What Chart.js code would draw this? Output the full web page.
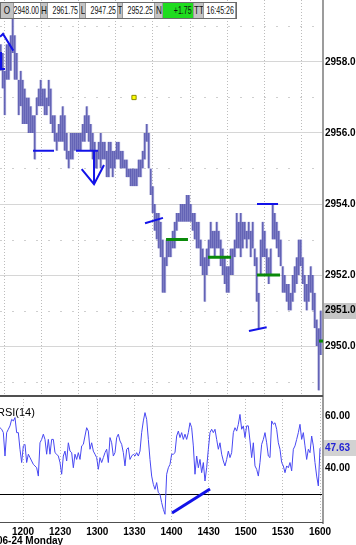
<!DOCTYPE html>
<html><head><meta charset="utf-8">
<script src="https://cdn.jsdelivr.net/npm/chart.js@4"></script>
<style>
html,body{margin:0;padding:0;background:#fff;}
#wrap{position:relative;width:356px;height:545px;overflow:hidden;background:#fff;font-family:"Liberation Sans",Arial,sans-serif;}
#c1{position:absolute;left:0;top:0;}
#c2{position:absolute;left:0;top:396px;}
#hdr{position:absolute;left:0;top:2px;height:17px;display:flex;border:1px solid #6a6a6a;box-sizing:border-box;background:#fff;z-index:2;}
#hdr span{position:relative;display:block;height:15px;font-size:10.5px;color:#111;box-sizing:border-box;white-space:nowrap;overflow:hidden;border-right:1px solid #9a9a9a;}
#hdr span i{position:absolute;top:0;line-height:15px;font-style:normal;white-space:nowrap;}
#hdr .k{background:#c4c4c4;}
#hdr .k i{left:50%;transform:translateX(-50%) scaleX(0.78);}
#hdr .v{background:#fff;}
#hdr .v i{right:1px;transform:scaleX(0.67);transform-origin:right center;}
#hdr .g{background:#1fdc1f;}
#rsiLbl{position:absolute;left:-3px;top:406px;font-size:11px;color:#000;z-index:2;}
#dateLbl{position:absolute;left:-3px;top:535px;font-size:10px;font-weight:bold;color:#000;line-height:12px;z-index:2;}
</style></head>
<body><div id="wrap">
<canvas id="c1" width="356" height="397"></canvas>
<canvas id="c2" width="356" height="149"></canvas>
<div id="hdr"></div>
<div id="rsiLbl">RSI(14)</div>
<div id="dateLbl">06-24 Monday</div>
</div>
<script>
// ---------- data ----------
const headerKeys = ["O","H","L","T","N","TT"];
const headerVals = ["2948.00","2961.75","2947.25","2952.25","+1.75","16:45:26"];
const timeTicks = [720,750,780,810,840,870,900,930,960];      // minutes since midnight (12:00 .. 16:00)
const priceTicks = [2950,2952,2954,2956,2958];
const priceMinor = [2949,2951,2953,2955,2957,2959];
const rsiTicks = [30,40,60];
const lastPrice = 2951.0;
const lastRsi = 47.63;

// price bars (about 1.6 minutes apart)
const barT0 = 702.22, barStep = 1.6162;
const barHigh = [
2958.5,2958.25,2957.75,2958.5,2958.5,2958.75,2959.25,2958.75,2958.25,2957.5,
2957.75,2957.5,2957.25,2957.0,2957.0,2956.75,2956.5,2956.5,2957.0,2957.25,
2957.5,2957.25,2957.25,2957.0,2957.5,2957.25,2956.5,2956.5,2956.0,2956.25,
2956.5,2956.75,2956.5,2956.0,2955.5,2956.0,2956.0,2956.0,2956.0,2956.0,
2956.0,2956.25,2956.5,2956.75,2956.5,2956.25,2956.0,2955.75,2955.5,2955.75,
2956.0,2955.75,2955.75,2955.5,2955.75,2955.75,2955.5,2955.5,2955.75,2955.75,
2955.5,2955.5,2955.25,2955.25,2955.0,2955.0,2955.0,2955.0,2955.0,2955.25,
2955.25,2955.5,2956.0,2956.25,2956.0,2955.0,2954.5,2954.0,2953.75,2953.75,
2953.5,2953.0,2952.5,2953.0,2953.0,2953.0,2953.25,2953.5,2953.75,2953.75,
2954.0,2954.0,2954.0,2954.25,2954.25,2954.0,2953.75,2953.75,2953.5,2953.5,
2953.0,2952.75,2952.5,2952.75,2953.0,2953.5,2953.25,2953.25,2953.5,2953.25,
2953.0,2952.75,2952.5,2952.25,2952.25,2952.75,2952.75,2953.0,2953.75,2953.5,
2953.75,2953.5,2953.5,2953.25,2953.5,2953.25,2953.5,2952.75,2952.5,2951.5,
2953.0,2953.5,2953.25,2952.75,2952.5,2952.75,2954.0,2953.75,2953.5,2953.25,
2953.0,2952.25,2952.0,2951.75,2951.75,2951.5,2952.0,2952.25,2952.5,2953.0,
2953.0,2952.5,2952.0,2951.75,2952.0,2952.25,2952.0,2951.5,2950.75,2950.5,
2951.0];
const barLow = [
2957.75,2957.25,2956.5,2957.5,2957.5,2957.75,2958.25,2957.5,2957.5,2956.5,
2956.75,2956.25,2956.25,2956.25,2956.0,2956.0,2956.0,2955.25,2956.5,2956.75,
2956.75,2956.75,2956.5,2956.5,2956.75,2956.25,2956.0,2955.75,2955.5,2955.75,
2955.75,2955.75,2955.5,2955.25,2955.0,2955.25,2955.25,2955.5,2955.5,2955.5,
2955.5,2955.75,2955.75,2956.0,2955.75,2955.5,2955.25,2955.0,2955.0,2955.25,
2955.0,2955.25,2955.25,2954.75,2954.75,2955.0,2954.75,2955.0,2955.25,2955.25,
2955.0,2955.0,2955.0,2954.75,2954.75,2954.5,2954.5,2954.5,2954.5,2954.75,
2954.75,2955.0,2955.25,2955.75,2955.0,2954.25,2953.75,2953.25,2953.0,2952.75,
2952.5,2951.5,2951.5,2952.25,2952.5,2952.5,2952.75,2952.75,2953.25,2953.5,
2953.5,2953.5,2953.5,2953.5,2953.5,2953.5,2953.25,2953.0,2952.75,2952.75,
2952.25,2952.0,2951.25,2952.0,2952.25,2952.75,2952.75,2952.5,2952.75,2952.75,
2952.25,2952.0,2951.75,2951.5,2951.5,2952.0,2952.0,2952.5,2952.75,2952.75,
2952.5,2952.75,2953.0,2952.75,2953.0,2952.5,2952.75,2952.25,2951.25,2950.5,
2952.0,2952.5,2952.5,2952.0,2951.75,2952.0,2953.0,2953.0,2952.75,2952.5,
2952.25,2951.5,2951.5,2951.25,2951.0,2951.0,2951.25,2951.5,2951.75,2952.0,
2952.25,2951.75,2951.25,2951.0,2951.25,2951.5,2951.0,2950.5,2950.0,2948.75,
2949.75];

// RSI(14) (about 1.35 minutes apart)
const rsiT0 = 701.41, rsiStep = 1.3468;
const rsiValues = [
55.5,54.9,53.6,44.6,53.6,54.9,56.2,58.7,58.1,59.4,
53.6,53.6,47.2,42.1,48.5,49.1,42.1,45.3,44.0,42.7,
41.4,40.8,40.1,36.9,49.7,51.0,53.0,51.0,45.3,51.0,
45.3,51.0,51.0,45.9,45.3,44.6,42.1,37.6,44.6,46.5,
42.7,49.7,46.5,45.9,40.1,45.3,43.3,45.9,43.3,48.5,
49.1,52.3,55.5,54.2,47.2,49.7,46.5,45.3,44.0,39.5,
44.0,42.1,44.0,45.9,47.2,42.1,51.7,49.7,44.6,45.9,
51.7,53.0,50.4,49.1,45.9,40.8,47.2,47.8,43.3,44.6,
45.3,44.6,45.9,44.6,46.5,53.6,58.1,61.3,58.7,51.0,
43.3,36.9,33.7,31.8,34.4,30.5,
29.9,26.7,24.1,22.2,37.6,40.1,41.4,45.3,45.3,45.9,
52.3,54.2,51.7,53.6,51.0,53.0,51.0,53.6,57.4,55.5,
48.5,37.6,44.6,40.1,43.3,38.2,42.1,35.0,40.1,47.2,
53.6,54.9,53.6,54.9,51.0,47.2,49.7,45.3,42.7,40.8,
43.3,46.5,44.0,45.9,53.6,55.5,54.2,56.8,60.6,54.9,
56.2,51.7,56.2,56.2,50.4,44.0,49.7,40.8,39.5,36.9,
42.1,49.1,51.0,53.6,49.7,44.6,44.0,58.1,56.8,57.4,
54.9,49.7,47.2,42.1,40.8,38.2,40.8,40.1,42.1,38.9,
47.2,48.5,51.0,53.6,56.8,51.0,53.6,48.5,43.3,47.2,
45.9,52.3,48.5,42.1,36.9,33.1,47.63];

// drawn annotations: [time, value] points
const blueLines = [
  [[701.41,2958.71],[703.83,2958.79],[712.16,2958.32]],
  [[702.22,2958.28],[702.22,2957.80],[705.45,2957.80]],
  [[728.1,2955.5],[745.05,2955.5]],
  [[762.8,2955.5],[780.6,2955.5]],
  [[777.4,2955.5],[777.4,2954.56]],
  [[767.4,2954.98],[777.4,2954.56],[785.45,2955.10]],
  [[818.6,2953.46],[833.1,2953.61]],
  [[909.1,2954.0],[926.1,2954.0]],
  [[902.6,2950.42],[916.9,2950.53]]
];
const greenLines = [
  [[835.6,2953.0],[853.3,2953.0]],
  [[869.5,2952.5],[888.1,2952.5]],
  [[909.1,2952.0],[927.7,2952.0]],
  [[959.2,2950.14],[963.2,2950.14]]
];
const yellowMark = [[809.7,2957.0]];
const rsiLine = [[840.4,22.7],[871.1,31.9]];

// ---------- header ----------
const hdr = document.getElementById('hdr');
const kW = [13,7,6,5,8,10], vW = [27,32,32,32,31,32];
headerKeys.forEach((k,i)=>{
  const a=document.createElement('span'); a.className='k'; a.style.width=kW[i]+'px'; a.innerHTML='<i></i>'; a.firstChild.textContent=k; hdr.appendChild(a);
  const b=document.createElement('span'); b.className='v'+(k==='N'?' g':''); b.style.width=vW[i]+'px'; b.innerHTML='<i></i>'; b.firstChild.textContent=headerVals[i]; hdr.appendChild(b);
});

// ---------- charts ----------
const xMin = 701.41, xMax = 962.42;
const fontB = {family:'Liberation Sans', size:10, weight:'bold'};
const hhmm = v => String(Math.floor(v/60)).padStart(2,'0') + String(Math.round(v%60)).padStart(2,'0');
const toPts = arr => arr.map(p=>({x:p[0], y:p[1]}));
const noPad = s => { s.paddingTop=0; s.paddingBottom=0; s.paddingLeft=0; s.paddingRight=0; };

const annoSets = [];
blueLines.forEach(l=>annoSets.push({type:'line', data:toPts(l), borderColor:'#1212e8', borderWidth:2, pointRadius:0, order:0}));
greenLines.forEach(l=>annoSets.push({type:'line', data:toPts(l), borderColor:'#0a8a0a', borderWidth:3, pointRadius:0, order:0}));
annoSets.push({type:'line', data:toPts(yellowMark), showLine:false, pointStyle:'rect', pointRadius:3, pointBackgroundColor:'#ffff00', pointBorderColor:'#8a8a00', pointBorderWidth:1, order:0});

const barData = barHigh.map((h,i)=>({x: barT0 + i*barStep, y:[barLow[i], h]}));

const panelLines = {
  id:'panelLines',
  beforeDatasetsDraw(chart, args, opts){
    const {ctx, chartArea:a, scales} = chart;
    ctx.save();
    if (opts.minor){
      ctx.strokeStyle='#cfcfcf'; ctx.lineWidth=1; ctx.setLineDash([2,10]);
      opts.minor.forEach(v=>{
        const y = Math.round(scales.y.getPixelForValue(v))+0.5;
        ctx.beginPath(); ctx.moveTo(a.left,y); ctx.lineTo(a.right,y); ctx.stroke();
      });
    }
    ctx.restore();
  },
  afterDraw(chart, args, opts){
    const {ctx, chartArea:a, scales} = chart;
    ctx.save();
    ctx.setLineDash([]);
    ctx.strokeStyle='#505050'; ctx.lineWidth=1;
    if (opts.bottom){ ctx.beginPath(); ctx.moveTo(0,a.bottom-0.5); ctx.lineTo(a.right,a.bottom-0.5); ctx.stroke(); }
    if (opts.top){ ctx.beginPath(); ctx.moveTo(0,a.top+0.5); ctx.lineTo(a.right,a.top+0.5); ctx.stroke(); }
    if (opts.tag){
      const y = scales.y.getPixelForValue(opts.tag.value);
      ctx.fillStyle = opts.tag.bg;
      ctx.fillRect(a.right+1, Math.round(y-8), 40, 16);
      ctx.fillStyle = opts.tag.color;
      ctx.font = 'bold 10px "Liberation Sans"';
      ctx.textBaseline='middle'; ctx.textAlign='left';
      ctx.fillText(opts.tag.text, a.right+2, y);
    }
    ctx.restore();
  }
};

new Chart(document.getElementById('c1'), {
  type:'bar',
  data:{datasets:[...annoSets, {type:'bar', data:barData, backgroundColor:'rgba(132,132,202,0.85)', borderColor:'rgba(55,55,155,0.9)', borderWidth:{left:1,right:0,top:0,bottom:0}, borderSkipped:false, barThickness:2.4, order:1}]},
  plugins:[panelLines],
  options:{
    responsive:false, animation:false, events:[],
    layout:{padding:0, autoPadding:false},
    plugins:{legend:{display:false}, tooltip:{enabled:false},
      panelLines:{minor:priceMinor, bottom:true, tag:{value:lastPrice, text:lastPrice.toFixed(1), bg:'#c6c6c6', color:'#000'}}},
    scales:{
      x:{type:'linear', min:xMin, max:xMax, offset:false,
         afterBuildTicks:s=>{s.ticks = timeTicks.map(v=>({value:v}));},
         afterFit:s=>{s.height=1; noPad(s);},
         ticks:{display:false},
         grid:{color:'#bcbcbc', drawTicks:false},
         border:{display:false, dash:[1,2]}},
      y:{position:'right', min:2948.592, max:2959.746,
         afterBuildTicks:s=>{s.ticks = priceTicks.map(v=>({value:v}));},
         afterFit:s=>{s.width=33; noPad(s);},
         ticks:{color:'#000', font:fontB, padding:2, autoSkip:false, callback:v=>Number(v).toFixed(1)},
         grid:{color:'#d6d6d6', drawTicks:false},
         border:{display:true, color:'#9c9c9c', width:2}}
    }
  }
});

const rsiData = rsiValues.map((v,i)=>({x: rsiT0 + i*rsiStep, y:v}));

new Chart(document.getElementById('c2'), {
  type:'line',
  data:{datasets:[
    {data:toPts(rsiLine), borderColor:'#1212e8', borderWidth:3, pointRadius:0, order:0},
    {data:rsiData, borderColor:'#4848f2', borderWidth:1, pointRadius:0, tension:0, order:1}
  ]},
  plugins:[panelLines],
  options:{
    responsive:false, animation:false, events:[],
    layout:{padding:0, autoPadding:false},
    plugins:{legend:{display:false}, tooltip:{enabled:false},
      panelLines:{top:true, bottom:true, tag:{value:lastRsi, text:lastRsi.toFixed(2), bg:'#d2d2d2', color:'#2424d4'}}},
    scales:{
      x:{type:'linear', min:xMin, max:xMax, offset:false,
         afterBuildTicks:s=>{s.ticks = timeTicks.map(v=>({value:v}));},
         afterFit:s=>{s.height=22; noPad(s);},
         ticks:{color:'#000', font:fontB, padding:3, autoSkip:false, maxRotation:0, callback:v=>hhmm(v)},
         grid:{color:'#bcbcbc', drawTicks:false},
         border:{display:false, dash:[1,2]}},
      y:{position:'right', min:18.85, max:67.69,
         afterBuildTicks:s=>{s.ticks = rsiTicks.map(v=>({value:v}));},
         afterFit:s=>{s.width=33; noPad(s);},
         ticks:{color:'#000', font:fontB, padding:2, autoSkip:false, callback:v=> v===30 ? '' : Number(v).toFixed(2)},
         grid:{color:c=> (c.tick && c.tick.value===30) ? '#000' : 'rgba(0,0,0,0)', drawTicks:false},
         border:{display:true, color:'#9c9c9c', width:2}}
    }
  }
});
</script>
</body></html>
